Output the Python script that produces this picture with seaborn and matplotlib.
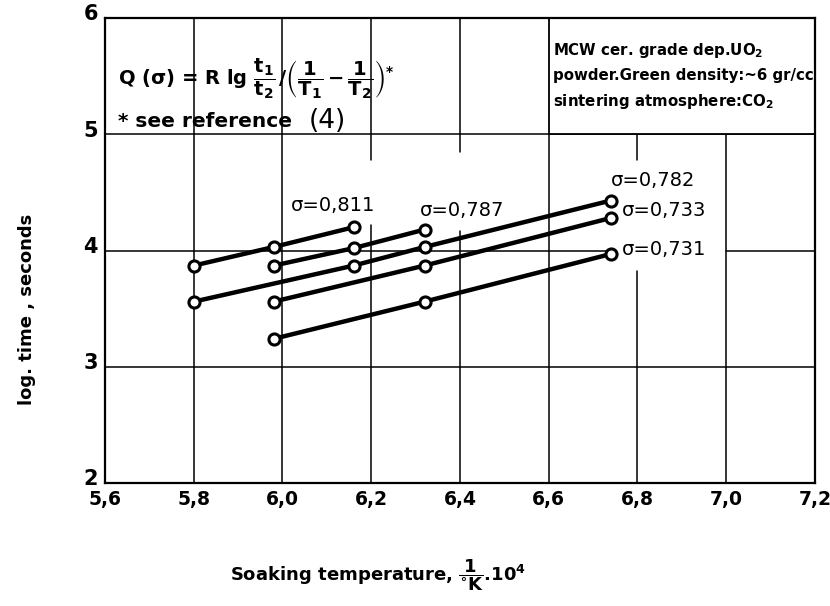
import numpy as np
import pandas as pd
import matplotlib
matplotlib.use("Agg")
import matplotlib.pyplot as plt
import matplotlib.transforms as mtransforms
import seaborn as sns
from matplotlib.patches import Rectangle

# ---- data ----
series_names = ["0,811", "0,787", "0,782", "0,733", "0,731"]
x_0811 = [5.80, 5.98, 6.16]
y_0811 = [3.87, 4.03, 4.20]
x_0787 = [5.98, 6.16, 6.32]
y_0787 = [3.87, 4.02, 4.18]
x_0782 = [5.80, 6.16, 6.32, 6.74]
y_0782 = [3.56, 3.87, 4.03, 4.43]
x_0733 = [5.98, 6.32, 6.74]
y_0733 = [3.56, 3.87, 4.28]
x_0731 = [5.98, 6.32, 6.74]
y_0731 = [3.24, 3.56, 3.97]

label_x = [6.02, 6.31, 6.74, 6.765, 6.765]
label_y = [4.39, 4.34, 4.60, 4.34, 4.01]

x_ticks = [5.6, 5.8, 6.0, 6.2, 6.4, 6.6, 6.8, 7.0, 7.2]
x_tick_labels = ["5,6", "5,8", "6,0", "6,2", "6,4", "6,6", "6,8", "7,0", "7,2"]
y_ticks = [2, 3, 4, 5, 6]
y_tick_labels = ["2", "3", "4", "5", "6"]

xs = [x_0811, x_0787, x_0782, x_0733, x_0731]
ys = [y_0811, y_0787, y_0782, y_0733, y_0731]
df = pd.concat(
    [pd.DataFrame({"x": x, "y": y, "series": n}) for n, x, y in zip(series_names, xs, ys)],
    ignore_index=True,
)

sns.set_style("white")
plt.rcParams["font.family"] = ["DejaVu Sans"]
plt.rcParams["mathtext.default"] = "regular"
plt.rcParams["text.color"] = "black"
plt.rcParams["xtick.color"] = "black"
plt.rcParams["ytick.color"] = "black"

fig = plt.figure(figsize=(8.3, 6.06), dpi=100)
ax = fig.add_axes([105 / 830, 1 - 483 / 606, 710 / 830, 465 / 606])

ax.set_xlim(5.6, 7.2)
ax.set_ylim(2, 6)

# grid (hand-drawn style with gaps where the lettering sits)
glw = 1.1
for gx in [5.8, 6.0, 6.6, 7.0]:
    ax.plot([gx, gx], [2, 6 if gx < 6.5 else 5], color="black", lw=glw, zorder=1)
for gx, gaps in [(6.2, (4.22, 4.78)), (6.4, (4.17, 4.85)), (6.8, (3.82, 4.78))]:
    ax.plot([gx, gx], [2, gaps[0]], color="black", lw=glw, zorder=1)
    ax.plot([gx, gx], [gaps[1], 6 if gx < 6.5 else 5], color="black", lw=glw, zorder=1)
for gy in [3, 5]:
    ax.plot([5.6, 7.2], [gy, gy], color="black", lw=glw, zorder=1)
ax.plot([5.6, 6.73], [4, 4], color="black", lw=glw, zorder=1)
ax.plot([7.0, 7.2], [4, 4], color="black", lw=glw, zorder=1)

sns.lineplot(
    data=df, x="x", y="y", units="series", estimator=None, color="black",
    lw=3.2, marker="o", markersize=8, markerfacecolor="white",
    markeredgecolor="black", markeredgewidth=2.2, legend=False, ax=ax, zorder=3,
)

for name, lx, ly in zip(series_names, label_x, label_y):
    ax.text(lx, ly, f"σ={name}", fontsize=14, va="center", ha="left",
            color="black", zorder=4)

# info box
ax.add_patch(Rectangle((6.6, 5.0), 0.6, 1.0, facecolor="white", edgecolor="black",
                       lw=1.3, zorder=2))
ax.text(6.61, 5.5,
        "MCW cer. grade dep.UO$_2$\npowder.Green density:~6 gr/cc\nsintering atmosphere:CO$_2$",
        fontsize=10.8, fontweight="bold", va="center", ha="left", linespacing=1.65,
        color="black", zorder=4)

# formula
ax.text(5.63, 5.48,
        r"Q $(\sigma)$ = R lg $\dfrac{t_1}{t_2}\,/\left(\dfrac{1}{T_1}-\dfrac{1}{T_2}\right)^{*}$",
        fontsize=14, fontweight="bold", va="center", ha="left", color="black", zorder=4)
ax.text(5.63, 5.03, "* see reference", fontsize=14.5, fontweight="bold",
        va="bottom", ha="left", color="black", zorder=4)
ax.text(6.06, 5.0, "(4)", fontsize=19, va="bottom", ha="left", color="black", zorder=4)

ax.set_xticks(x_ticks, x_tick_labels)
ax.set_yticks(y_ticks, y_tick_labels)
ax.tick_params(length=0, pad=5, colors="black")
ax.tick_params(axis="x", labelsize=13.5)
ax.tick_params(axis="y", labelsize=15)
shift_up = mtransforms.ScaledTranslation(0, 4 / 72, fig.dpi_scale_trans)
for lab in ax.get_xticklabels() + ax.get_yticklabels():
    lab.set_fontweight("bold")
for lab in ax.get_yticklabels():
    lab.set_transform(lab.get_transform() + shift_up)
ax.set_xlabel("")
ax.set_ylabel("")
for sp in ax.spines.values():
    sp.set_color("black")
    sp.set_linewidth(1.6)
    sp.set_visible(True)

fig.text(27 / 830, 1 - 309 / 606, "log. time , seconds", rotation=90, fontsize=13,
         fontweight="bold", ha="center", va="center", color="black")
fig.text(378 / 830, 1 - 575 / 606,
         r"Soaking temperature, $\dfrac{1}{{}^{\circ}K}$.10$^4$",
         fontsize=13, fontweight="bold", ha="center", va="center", color="black")

fig.savefig("out.png", dpi=100, facecolor="white")
